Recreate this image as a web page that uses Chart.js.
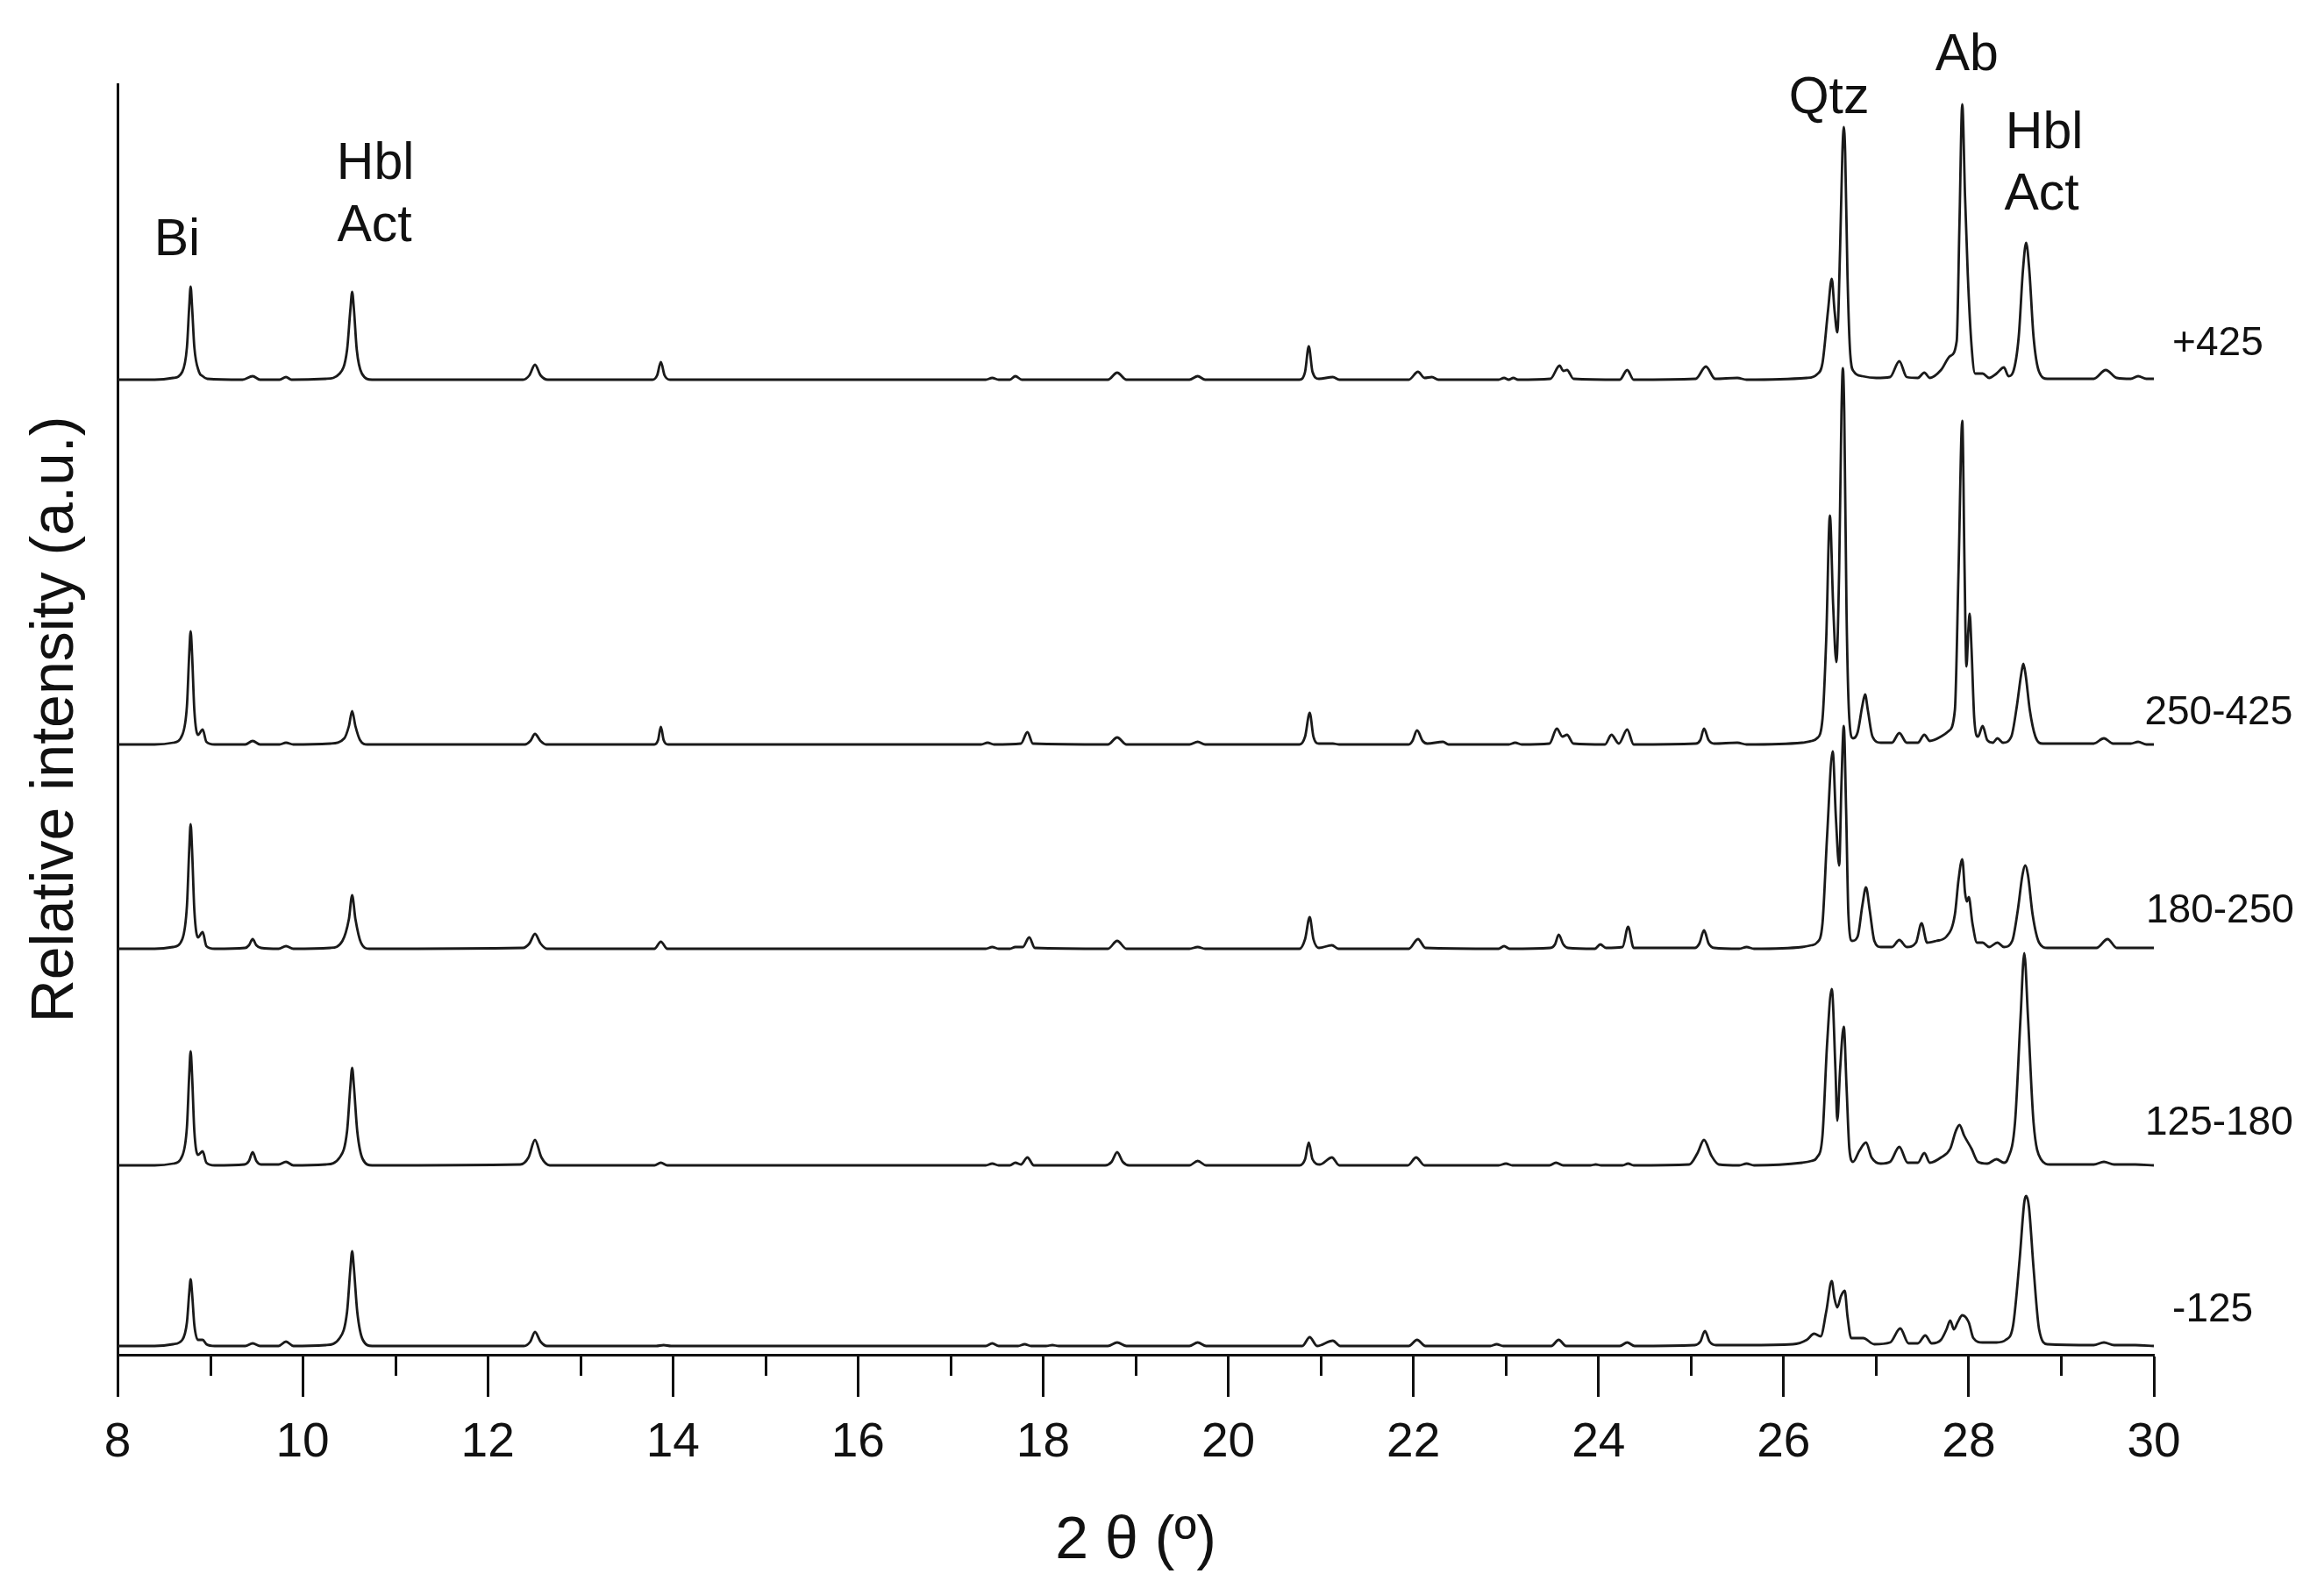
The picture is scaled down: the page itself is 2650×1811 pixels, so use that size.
<!DOCTYPE html>
<html>
<head>
<meta charset="utf-8">
<script src="https://cdn.jsdelivr.net/npm/chart.js@4/dist/chart.umd.min.js"></script>
<style>
  html, body { margin: 0; padding: 0; background: #fff; }
  #wrap { width: 2650px; height: 1811px; position: relative; }
</style>
</head>
<body>
<div id="wrap"><canvas id="xrdChart"></canvas></div>
<script>
// ── DATA: [2theta, intensity] ──────────────────────────────────────
const sampleNames = ["+425", "250-425", "180-250", "125-180", "-125"];
const stackOffsets = [1111, 695, 462, 215, 9];
const xTicks = [8, 10, 12, 14, 16, 18, 20, 22, 24, 26, 28, 30];

const pattern425 = [
  [8.0,1],[8.4,1],[8.6,3],[8.7,10],[8.75,38],[8.775,85],[8.79,107],[8.805,85],[8.83,38],[8.88,10],[8.92,5],[8.97,2],
  [9.35,1],[9.46,5],[9.54,1],[9.75,1],[9.82,4],[9.88,1],
  [10.25,2],[10.4,8],[10.48,35],[10.515,80],[10.535,101],[10.555,80],[10.585,35],[10.64,8],[10.75,1],
  [12.38,1],[12.45,6],[12.51,18],[12.57,6],[12.65,1],
  [13.78,1],[13.83,6],[13.87,21],[13.91,6],[13.97,1],
  [17.38,1],[17.45,3],[17.52,1],[17.64,1],[17.7,5],[17.77,1],
  [18.7,1],[18.8,9],[18.9,1],
  [19.58,1],[19.67,5],[19.75,1],
  [20.77,1],[20.83,10],[20.87,39],[20.91,10],[20.98,2],[21.13,4],[21.2,1],
  [21.95,1],[22.05,10],[22.12,3],[22.2,4],[22.27,1],
  [22.92,1],[22.98,3],[23.03,1],[23.08,3],[23.13,1],
  [23.48,2],[23.58,17],[23.62,11],[23.66,12],[23.73,2],
  [24.23,1],[24.31,12],[24.38,1],
  [25.05,2],[25.16,16],[25.26,2],[25.5,3],[25.6,1],
  [26.25,3],[26.36,7],[26.42,20],[26.48,80],[26.52,116],[26.55,80],[26.58,55],[26.61,150],[26.635,260],[26.65,289],[26.665,260],[26.69,120],[26.72,30],[26.76,10],[26.85,5],[27.0,3],
  [27.15,4],[27.25,22],[27.33,4],[27.45,3],[27.52,9],[27.58,3],[27.7,12],[27.8,28],[27.87,45],[27.9,180],[27.93,315],[27.96,210],[27.99,120],[28.03,40],[28.07,8],
  [28.15,8],[28.22,3],[28.3,8],[28.38,15],[28.43,5],
  [28.48,10],[28.54,50],[28.585,125],[28.62,157],[28.655,125],[28.7,50],[28.76,10],[28.85,2],
  [29.35,2],[29.48,12],[29.6,3],[29.75,2],[29.83,5],[29.92,2],[30.0,2]
];

const pattern250 = [
  [8.0,1],[8.4,1],[8.6,3],[8.7,12],[8.75,45],[8.775,105],[8.79,130],[8.805,105],[8.83,40],[8.87,12],[8.92,18],[8.96,4],[9.05,1],
  [9.38,1],[9.46,5],[9.54,1],[9.75,1],[9.82,3],[9.9,1],
  [10.3,2],[10.45,8],[10.5,22],[10.535,39],[10.57,22],[10.62,6],[10.7,1],
  [12.4,1],[12.46,5],[12.51,13],[12.57,5],[12.63,1],
  [13.8,1],[13.84,6],[13.87,21],[13.9,6],[13.95,1],
  [17.33,1],[17.4,3],[17.47,1],[17.76,2],[17.83,15],[17.89,2],
  [18.7,1],[18.8,9],[18.9,1],
  [19.58,1],[19.67,4],[19.75,1],
  [20.77,1],[20.83,10],[20.88,37],[20.92,10],[20.98,2],[21.13,2],[21.2,1],
  [21.95,1],[21.99,5],[22.04,17],[22.1,5],[22.15,2],[22.32,4],[22.38,1],
  [23.03,1],[23.1,3],[23.17,1],
  [23.47,2],[23.55,19],[23.61,10],[23.66,12],[23.73,2],
  [24.07,1],[24.14,12],[24.22,2],[24.31,18],[24.38,1],
  [25.05,2],[25.1,6],[25.14,19],[25.19,6],[25.25,2],[25.5,3],[25.6,1],
  [26.2,3],[26.3,5],[26.36,8],[26.42,30],[26.46,120],[26.5,262],[26.535,160],[26.57,95],[26.6,200],[26.625,380],[26.64,430],[26.655,380],[26.68,150],[26.71,30],[26.75,8],
  [26.8,15],[26.85,45],[26.88,58],[26.91,40],[26.96,10],[27.05,3],
  [27.17,3],[27.25,14],[27.33,3],[27.45,3],[27.52,12],[27.58,5],[27.7,10],[27.78,16],
  [27.85,40],[27.89,200],[27.93,370],[27.955,200],[27.975,90],[27.995,130],[28.01,150],[28.03,110],[28.06,30],[28.1,10],
  [28.15,22],[28.2,6],[28.26,3],[28.31,8],[28.37,3],
  [28.46,10],[28.52,45],[28.565,80],[28.59,93],[28.615,80],[28.66,40],[28.72,10],[28.8,2],
  [29.35,2],[29.46,8],[29.56,2],[29.75,2],[29.83,4],[29.92,1],[30.0,1]
];

const pattern180 = [
  [8.0,1],[8.4,1],[8.6,3],[8.7,12],[8.75,50],[8.775,115],[8.79,143],[8.805,115],[8.83,45],[8.87,14],[8.92,20],[8.96,4],[9.05,1],
  [9.38,2],[9.42,5],[9.46,12],[9.5,5],[9.55,2],[9.74,1],[9.82,4],[9.9,1],
  [10.3,2],[10.43,10],[10.5,35],[10.535,62],[10.57,35],[10.63,8],[10.72,1],
  [12.38,2],[12.45,7],[12.51,18],[12.57,7],[12.64,1],
  [13.8,1],[13.87,9],[13.94,1],
  [17.38,1],[17.45,3],[17.52,1],[17.64,1],[17.7,3],[17.78,3],[17.85,14],[17.91,2],
  [18.7,1],[18.8,10],[18.9,1],
  [19.58,1],[19.67,3],[19.75,1],
  [20.77,1],[20.83,12],[20.88,37],[20.92,12],[20.98,2],[21.12,5],[21.19,1],
  [21.95,1],[22.05,12],[22.13,2],
  [22.92,1],[22.98,4],[23.04,1],
  [23.48,2],[23.53,6],[23.57,17],[23.62,6],[23.67,2],
  [23.96,1],[24.02,6],[24.08,2],[24.26,3],[24.32,26],[24.38,2],
  [25.04,2],[25.09,7],[25.14,22],[25.19,7],[25.25,2],[25.52,1],[25.6,3],[25.68,1],
  [26.2,3],[26.3,5],[26.36,8],[26.42,30],[26.47,130],[26.53,226],[26.565,150],[26.6,96],[26.625,190],[26.65,255],[26.675,160],[26.7,40],[26.74,10],
  [26.8,15],[26.85,50],[26.89,71],[26.93,45],[26.98,10],[27.05,3],
  [27.17,3],[27.25,11],[27.33,3],[27.43,8],[27.49,30],[27.55,8],[27.65,10],[27.76,15],
  [27.85,40],[27.89,80],[27.93,103],[27.96,65],[27.98,55],[28.0,60],[28.04,30],[28.09,8],
  [28.15,8],[28.22,3],[28.31,8],[28.38,3],
  [28.47,10],[28.53,45],[28.58,85],[28.61,96],[28.64,85],[28.69,40],[28.76,8],[28.85,2],
  [29.38,2],[29.5,12],[29.6,2],[29.8,2],[30.0,2]
];

const pattern125 = [
  [8.0,1],[8.4,1],[8.6,3],[8.7,12],[8.75,45],[8.775,105],[8.79,131],[8.805,105],[8.83,40],[8.87,13],[8.92,17],[8.96,4],[9.05,1],
  [9.37,2],[9.42,6],[9.46,16],[9.5,6],[9.55,2],[9.74,2],[9.82,5],[9.9,1],
  [10.25,2],[10.4,10],[10.48,40],[10.515,90],[10.535,112],[10.555,90],[10.59,40],[10.65,8],[10.75,1],
  [12.35,2],[12.44,10],[12.51,30],[12.58,10],[12.67,1],
  [13.8,1],[13.87,4],[13.94,1],
  [17.38,1],[17.45,3],[17.52,1],[17.64,1],[17.7,4],[17.76,2],[17.83,10],[17.9,1],
  [18.67,1],[18.74,5],[18.8,16],[18.86,5],[18.93,1],
  [19.58,1],[19.67,6],[19.76,1],
  [20.77,1],[20.83,8],[20.87,27],[20.91,8],[20.99,2],[21.12,10],[21.2,1],
  [21.94,1],[22.03,10],[22.12,1],
  [22.92,1],[23.0,3],[23.07,1],
  [23.47,1],[23.54,4],[23.62,1],
  [23.91,1],[23.97,2],[24.03,1],[24.26,1],[24.32,3],[24.38,1],
  [24.98,2],[25.07,15],[25.14,30],[25.22,12],[25.3,2],[25.52,1],[25.6,3],[25.68,1],
  [26.2,4],[26.3,6],[26.36,10],[26.42,35],[26.47,140],[26.52,202],[26.56,110],[26.58,52],[26.61,110],[26.65,159],[26.68,90],[26.71,20],[26.75,5],
  [26.82,18],[26.89,27],[26.95,10],[27.05,3],
  [27.15,5],[27.25,22],[27.34,4],[27.45,4],[27.52,15],[27.58,4],[27.7,10],[27.8,20],
  [27.86,40],[27.9,47],[27.95,35],[28.03,20],[28.1,5],[28.2,3],[28.3,8],[28.38,4],
  [28.42,8],[28.5,50],[28.56,170],[28.6,243],[28.64,170],[28.7,50],[28.78,8],[28.88,2],
  [29.35,2],[29.46,5],[29.57,2],[29.8,2],[30.0,1]
];

const patternMinus125 = [
  [8.0,1],[8.4,1],[8.6,3],[8.7,8],[8.75,28],[8.775,62],[8.79,77],[8.805,62],[8.83,25],[8.87,8],[8.92,8],[8.96,3],[9.05,1],
  [9.38,1],[9.46,4],[9.54,1],[9.74,1],[9.82,6],[9.9,1],
  [10.25,2],[10.4,10],[10.48,40],[10.515,88],[10.535,109],[10.555,88],[10.59,40],[10.65,8],[10.75,1],
  [12.39,1],[12.46,6],[12.51,17],[12.57,6],[12.64,1],
  [13.82,1],[13.9,2],[13.98,1],
  [17.38,1],[17.45,4],[17.52,1],[17.73,1],[17.8,3],[17.87,1],[18.03,1],[18.1,2],[18.17,1],
  [18.7,1],[18.8,5],[18.9,1],
  [19.58,1],[19.67,5],[19.76,1],
  [20.8,1],[20.88,11],[20.96,1],[21.13,7],[21.21,1],
  [21.95,1],[22.04,8],[22.13,1],
  [22.83,1],[22.9,3],[22.97,1],
  [23.49,1],[23.57,8],[23.65,1],
  [24.23,1],[24.31,5],[24.39,1],
  [25.04,2],[25.1,6],[25.15,18],[25.2,6],[25.27,2],[25.6,2],
  [26.1,3],[26.25,8],[26.33,15],[26.4,12],[26.46,40],[26.52,75],[26.55,55],[26.58,45],[26.62,58],[26.66,64],[26.69,35],[26.73,10],
  [26.86,10],[26.98,3],
  [27.15,5],[27.26,21],[27.35,4],[27.45,4],[27.53,13],[27.6,4],[27.7,8],[27.76,20],[27.8,30],[27.84,20],[27.88,28],[27.93,36],[28.0,28],[28.05,10],
  [28.15,5],[28.3,5],[28.4,8],
  [28.48,25],[28.55,100],[28.6,165],[28.62,172],[28.65,160],[28.7,90],[28.76,20],[28.85,3],
  [29.35,2],[29.46,5],[29.57,2],[29.8,2],[30.0,1]
];

const patterns = [pattern425, pattern250, pattern180, pattern125, patternMinus125];

// phase labels above peaks
const phaseTexts = ["Bi", "Hbl", "Act", "Qtz", "Ab", "Hbl", "Act"];

// ── LAYOUT / STYLE ──────────────────────────────────────────────
const FONT = "'Liberation Sans', Arial, Helvetica, sans-serif";
const INK = "#111";
const phaseAnchors = [[8.644,1270],[10.786,1357],[10.777,1286],[26.49,1432],[27.98,1481],[28.816,1392],[28.788,1322]];
const sampleAnchors = [[30.2,1153],[29.9,732],[29.915,506],[29.905,264],[30.2,51]];

const overlayPlugin = {
  id: "overlay",
  afterDraw(chart) {
    const ctx = chart.ctx;
    const xs = chart.scales.x, ys = chart.scales.y;
    ctx.save();
    // minor ticks at odd degrees
    ctx.strokeStyle = INK;
    ctx.lineWidth = 3;
    const yAxis = chart.chartArea.bottom;
    for (let v = 9; v < 30; v += 2) {
      const px = Math.round(xs.getPixelForValue(v)) + 0.5;
      ctx.beginPath();
      ctx.moveTo(px, yAxis);
      ctx.lineTo(px, yAxis + 24);
      ctx.stroke();
    }
    ctx.fillStyle = INK;
    ctx.textBaseline = "middle";
    // phase labels
    ctx.font = "59px " + FONT;
    ctx.textAlign = "center";
    phaseTexts.forEach((t, i) => {
      const [xv, yv] = phaseAnchors[i];
      ctx.fillText(t, xs.getPixelForValue(xv), ys.getPixelForValue(yv));
    });
    // sample labels
    ctx.font = "46px " + FONT;
    ctx.textAlign = "left";
    sampleNames.forEach((t, i) => {
      const [xv, yv] = sampleAnchors[i];
      ctx.fillText(t, xs.getPixelForValue(xv), ys.getPixelForValue(yv));
    });
    ctx.restore();
  }
};

const datasets = patterns.map((pts, i) => ({
  label: sampleNames[i],
  data: pts.map(([x, y]) => ({ x: x, y: y + stackOffsets[i] })),
  borderColor: "#1a1a1a",
  borderWidth: 2.8,
  borderJoinStyle: "round",
  pointRadius: 0,
  fill: false,
  cubicInterpolationMode: "monotone"
}));

new Chart(document.getElementById("xrdChart").getContext("2d"), {
  type: "line",
  data: { datasets: datasets },
  options: {
    responsive: true,
    maintainAspectRatio: false,
    animation: false,
    layout: { padding: { top: 96, right: 194, left: 0, bottom: 0 } },
    plugins: { legend: { display: false }, tooltip: { enabled: false } },
    scales: {
      x: {
        type: "linear",
        min: 8,
        max: 30,
        afterFit: s => { s.height = 266; },
        afterBuildTicks: s => { s.ticks = xTicks.map(v => ({ value: v })); },
        ticks: {
          color: INK,
          font: { family: FONT, size: 55 },
          padding: 20,
          maxRotation: 0,
          autoSkip: false
        },
        grid: {
          display: true,
          drawOnChartArea: false,
          drawTicks: true,
          tickLength: 48,
          tickWidth: 3,
          tickColor: INK
        },
        border: { display: true, color: INK, width: 3 },
        title: {
          display: true,
          text: "2 θ (º)",
          color: INK,
          font: { family: FONT, size: 68 },
          padding: { top: 0, bottom: 12 }
        }
      },
      y: {
        type: "linear",
        min: 0,
        max: 1449,
        afterFit: s => { s.width = 134; },
        ticks: { display: false },
        grid: { display: false, drawTicks: false },
        border: { display: true, color: INK, width: 3 },
        title: {
          display: true,
          text: "Relative intensity (a.u.)",
          color: INK,
          font: { family: FONT, size: 68 },
          padding: { top: 23, bottom: 0 }
        }
      }
    }
  },
  plugins: [overlayPlugin]
});
</script>
</body>
</html>
